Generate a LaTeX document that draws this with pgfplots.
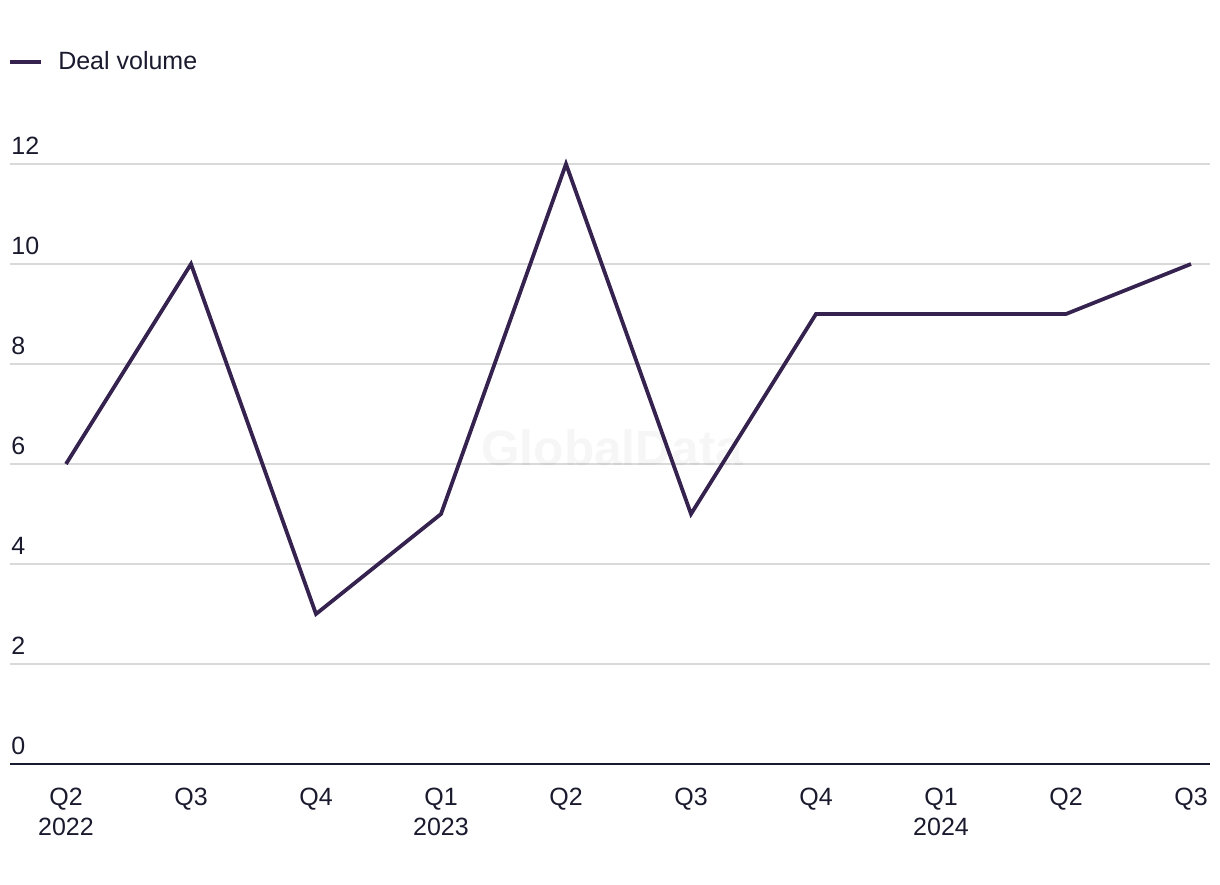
\documentclass[border=0pt]{standalone}
\usepackage{pgfplots}
\pgfplotsset{compat=1.18}
\usepackage{fontspec}
\setmainfont{Liberation Sans}
\definecolor{txt}{HTML}{1A1A2E}
\definecolor{lineC}{HTML}{35224F}
\definecolor{gridC}{HTML}{D9D9D9}
\begin{document}
\begin{tikzpicture}
\path[use as bounding box] (0,0) rectangle (610pt,442pt);
\begin{axis}[
  at={(5pt,60pt)}, anchor=south west,
  scale only axis, width=600pt, height=300pt,
  xmin=-0.448, xmax=9.152, ymin=0, ymax=12,
  clip=false,
  axis line style={draw=none},
  axis x line*=bottom,
  axis y line*=left,
  xtick={0,...,9},
  xticklabels={Q2\\2022,Q3,Q4,Q1\\2023,Q2,Q3,Q4,Q1\\2024,Q2,Q3},
  ytick={0,2,4,6,8,10,12},
  major tick length=0pt,
  ymajorgrids, grid style={gridC, line width=0.8pt},
  extra y ticks={0}, extra y tick labels={},
  extra y tick style={grid style={txt, line width=1pt}},
  tick label style={font=\fontsize{12.5}{15}\selectfont, text=txt},
  /pgf/number format/assume math mode=true,
  xticklabel style={align=center, anchor=north, inner sep=0pt, yshift=-12pt},
  yticklabel style={anchor=south west, inner sep=0pt, xshift=0.5pt, yshift=4.5pt},
  legend style={draw=none, at={(-1pt,1.17)}, anchor=west, inner sep=0pt,
    font=\fontsize{12.5}{15}\selectfont, text=txt,
    nodes={inner sep=0pt, anchor=west}},
  legend cell align=left,
  legend image code/.code={\draw[#1] (0pt,0pt) -- (15.5pt,0pt);\path[draw=none] (0pt,0pt) -- (24pt,0pt);},
]
\addplot[lineC, line width=1.9pt] coordinates {
(0,6) (1,10) (2,3) (3,5) (4,12) (5,5) (6,9) (7,9) (8,9) (9,10)};
\addlegendentry{Deal volume}
\node[text=black, opacity=0.035, font=\bfseries\fontsize{24.8}{28}\selectfont] at (axis cs:4.37,6.32) {GlobalData};
\end{axis}
\end{tikzpicture}
\end{document}
